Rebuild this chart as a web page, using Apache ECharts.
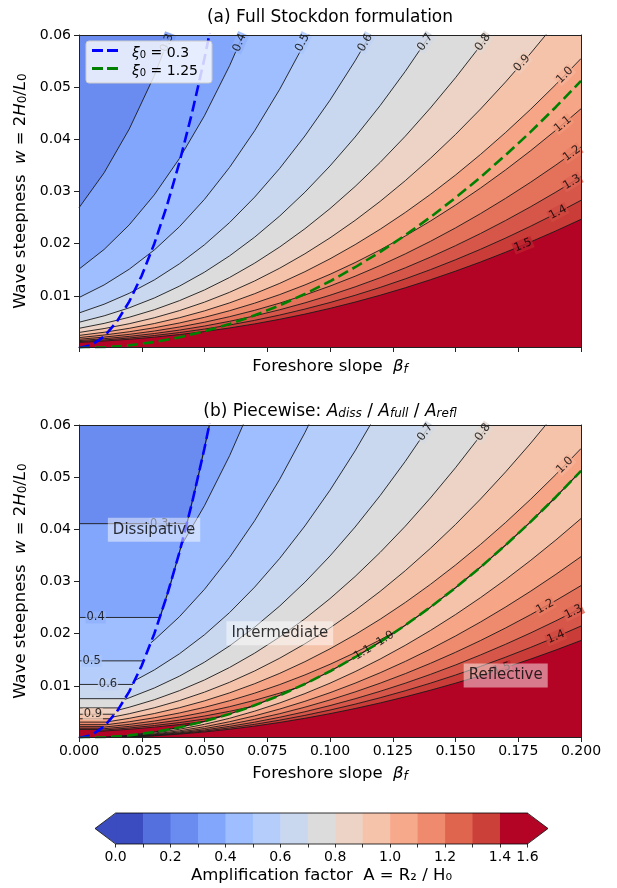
<!DOCTYPE html>
<html>
<head>
<meta charset="utf-8">
<title>Stockdon amplification factor</title>
<script src="https://cdn.jsdelivr.net/npm/echarts@6/dist/echarts.min.js"></script>
<style>
html,body{margin:0;padding:0;background:#ffffff;}
#chart{width:617px;height:888px;}
</style>
</head>
<body>
<div id="chart"></div>
<script>
// ================= values =================
const levels = [0.3, 0.4, 0.5, 0.6, 0.7, 0.8, 0.9, 1.0, 1.1, 1.2, 1.3, 1.4, 1.5];
const betaGrid = [0, 0.01, 0.02, 0.03, 0.04, 0.05, 0.06, 0.07, 0.08, 0.09, 0.10,
                  0.11, 0.12, 0.13, 0.14, 0.15, 0.16, 0.17, 0.18, 0.19, 0.20];
const yTicks = [0.01, 0.02, 0.03, 0.04, 0.05, 0.06];

// steepness w of each contour of the full formulation, at betaGrid
const fullW_03 = [0.02689, 0.03359, 0.04196, 0.05221, 0.06457];
const fullW_04 = [0.015125, 0.018895, 0.0236, 0.02937, 0.036319, 0.044543, 0.054117, 0.0651];
const fullW_05 = [0.00968, 0.012093, 0.015104, 0.018797, 0.023244, 0.028508, 0.034635, 0.041664, 0.049623, 0.058533, 0.06841];
const fullW_06 = [0.0067222, 0.0083977, 0.010489, 0.013053, 0.016142, 0.019797, 0.024052, 0.028933, 0.03446, 0.040648, 0.047507, 0.055046, 0.063271];
const fullW_07 = [0.0049388, 0.0061697, 0.007706, 0.0095902, 0.011859, 0.014545, 0.017671, 0.021257, 0.025318, 0.029864, 0.034903, 0.040442, 0.046485, 0.053035, 0.060095, 0.067666];
const fullW_08 = [0.0037813, 0.0047237, 0.0058999, 0.0073425, 0.0090798, 0.011136, 0.013529, 0.016275, 0.019384, 0.022864, 0.026723, 0.030963, 0.03559, 0.040605, 0.04601, 0.051807, 0.057997, 0.064581];
const fullW_09 = [0.0029877, 0.0037323, 0.0046617, 0.0058015, 0.0071742, 0.0087986, 0.01069, 0.012859, 0.015316, 0.018066, 0.021114, 0.024465, 0.02812, 0.032083, 0.036354, 0.040934, 0.045825, 0.051027, 0.056541, 0.062367];
const fullW_10 = [0.00242, 0.0030232, 0.003776, 0.0046992, 0.0058111, 0.0071269, 0.0086587, 0.010416, 0.012406, 0.014633, 0.017102, 0.019817, 0.022777, 0.025987, 0.029446, 0.033156, 0.037118, 0.041332, 0.045798, 0.050517, 0.055489];
const fullW_11 = [0.002, 0.0024985, 0.0031206, 0.0038836, 0.0048026, 0.00589, 0.007156, 0.0086082, 0.010253, 0.012094, 0.014134, 0.016377, 0.018824, 0.021477, 0.024336, 0.027402, 0.030676, 0.034159, 0.03785, 0.04175, 0.045859];
const fullW_12 = [0.0016806, 0.0020994, 0.0026222, 0.0032633, 0.0040355, 0.0049492, 0.006013, 0.0072333, 0.008615, 0.010162, 0.011877, 0.013762, 0.015818, 0.018047, 0.020449, 0.023025, 0.025776, 0.028703, 0.031804, 0.035081, 0.038534];
const fullW_13 = [0.001432, 0.0017888, 0.0022343, 0.0027806, 0.0034385, 0.0042171, 0.0051235, 0.0061633, 0.0073406, 0.0086587, 0.01012, 0.011726, 0.013478, 0.015377, 0.017424, 0.019619, 0.021963, 0.024457, 0.0271, 0.029892, 0.032834];
const fullW_14 = [0.0012347, 0.0015424, 0.0019265, 0.0023975, 0.0029649, 0.0036362, 0.0044177, 0.0053143, 0.0063294, 0.0074659, 0.0087258, 0.01011, 0.011621, 0.013259, 0.015024, 0.016917, 0.018938, 0.021088, 0.023366, 0.025774, 0.028311];
const fullW_15 = [0.0010756, 0.0013436, 0.0016782, 0.0020885, 0.0025827, 0.0031675, 0.0038483, 0.0046293, 0.0055136, 0.0065036, 0.0076011, 0.0088073, 0.010123, 0.01155, 0.013087, 0.014736, 0.016497, 0.01837, 0.020355, 0.022452, 0.024662];
const fullW = [fullW_03, fullW_04, fullW_05, fullW_06, fullW_07, fullW_08, fullW_09,
               fullW_10, fullW_11, fullW_12, fullW_13, fullW_14, fullW_15];

// panel (b): dissipative horizontal contours (w level, beta where they meet xi0=0.3)
const dissW = [0.041089, 0.023113, 0.014792, 0.010272, 0.0075469, 0.0057781, 0.0045654, 0.003698, 0.0030562, 0.002568, 0.0021882, 0.0018867, 0.0016436];
const dissEnd = [0.043003, 0.032252, 0.0258, 0.021501, 0.018429, 0.016126, 0.014334, 0.0129, 0.011728, 0.010751, 0.0099236, 0.0092147, 0.0086004];
// points along xi0 = 0.3 joining a dissipative contour to the intermediate one
const blueJoin = [[[0.0475, 0.050139]], [[0.0365, 0.029606]], [], [], [], [], [], [], [], [], [], [], []];
// where the intermediate contours start (on xi0=0.3) and end (on xi0=1.25)
const midStart = [[0.05196, 0.06], [0.04074, 0.03688], [0.028667, 0.018262], [0.022278, 0.01103],
                  [0.018268, 0.0074163], [0.015501, 0.0053398], [0.013471, 0.0040326], [0.011916, 0.0031551],
                  [0.010685, 0.0025369], [0.0096858, 0.0020848], [0.0088586, 0.0017439], [0.0081621, 0.0014804],
                  [0.0075677, 0.0012727]];
const midEnd = [null, null, null, null, null, null, null, null,
                [0.12726, 0.02073], [0.08688, 0.009662], [0.06839, 0.005987], [0.05719, 0.004187], [0.0495, 0.003136]];

// panel (b): reflective contours (levels 1.0 ... 1.5), w at betaGrid
const reflLevels = [1.0, 1.1, 1.2, 1.3, 1.4, 1.5];
const reflW_10 = [0, 0.000105, 0.000421, 0.000947, 0.001683, 0.002629, 0.003786, 0.005154, 0.006731, 0.008519, 0.010517, 0.012726, 0.015145, 0.017774, 0.020614, 0.023664, 0.026925, 0.030395, 0.034076, 0.037968, 0.04207];
const reflW_11 = [0, 0.000087, 0.000348, 0.000782, 0.001391, 0.002173, 0.003129, 0.004259, 0.005563, 0.007041, 0.008692, 0.010517, 0.012517, 0.01469, 0.017037, 0.019557, 0.022252, 0.02512, 0.028162, 0.031378, 0.034768];
const reflW_12 = [0, 0.000073, 0.000292, 0.000657, 0.001169, 0.001826, 0.002629, 0.003579, 0.004674, 0.005916, 0.007304, 0.008838, 0.010517, 0.012343, 0.014315, 0.016434, 0.018698, 0.021108, 0.023664, 0.026367, 0.029215];
const reflW_13 = [0, 0.000062, 0.000249, 0.00056, 0.000996, 0.001556, 0.00224, 0.003049, 0.003983, 0.005041, 0.006223, 0.00753, 0.008962, 0.010517, 0.012198, 0.014002, 0.015932, 0.017985, 0.020163, 0.022466, 0.024893];
const reflW_14 = [0, 0.000054, 0.000215, 0.000483, 0.000859, 0.001342, 0.001932, 0.002629, 0.003434, 0.004346, 0.005366, 0.006493, 0.007727, 0.009069, 0.010517, 0.012074, 0.013737, 0.015508, 0.017386, 0.019371, 0.021464];
const reflW_15 = [0, 0.000047, 0.000187, 0.000421, 0.000748, 0.001169, 0.001683, 0.00229, 0.002992, 0.003786, 0.004674, 0.005656, 0.006731, 0.0079, 0.009162, 0.010517, 0.011966, 0.013509, 0.015145, 0.016875, 0.018698];
const reflW = [reflW_10, reflW_11, reflW_12, reflW_13, reflW_14, reflW_15];

// regime boundaries xi0 = 0.3 and xi0 = 1.25
const xiLowPts = [[0, 0], [0.005, 0.000556], [0.01, 0.002222], [0.015, 0.005], [0.02, 0.008889], [0.025, 0.013889],
                  [0.03, 0.02], [0.035, 0.027222], [0.04, 0.035556], [0.045, 0.045], [0.05, 0.055556], [0.055, 0.067222]];
const xiHighW = [0, 0.000128, 0.000512, 0.001152, 0.002048, 0.0032, 0.004608, 0.006272, 0.008192, 0.010368, 0.0128,
                 0.015488, 0.018432, 0.021632, 0.025088, 0.0288, 0.032768, 0.036992, 0.041472, 0.046208, 0.0512];
// segments of xi0 = 0.3 where panel (b) contours pile up on the jump
const blueJumpB = [[[0.043003, 0.041089], [0.0475, 0.050139], [0.05196, 0.06]],
                   [[0.032252, 0.023113], [0.0365, 0.029606], [0.04074, 0.03688]]];

// contour labels: text, beta, w, angle
const labelsA = [['0.3', 0.0351, 0.0585, 69], ['0.4', 0.0640, 0.0585, 66], ['0.5', 0.0890, 0.0585, 63],
                 ['0.6', 0.1140, 0.0585, 60], ['0.7', 0.1379, 0.0586, 56], ['0.8', 0.1609, 0.0586, 54],
                 ['0.9', 0.1765, 0.0546, 48], ['1.0', 0.1936, 0.0523, 45], ['1.1', 0.1928, 0.0429, 40],
                 ['1.2', 0.1964, 0.0373, 36], ['1.3', 0.1964, 0.0318, 31], ['1.4', 0.1908, 0.0260, 28],
                 ['1.5', 0.1769, 0.0197, 22]];
const labelsB = [['0.3', 0.0319, 0.04109, 0], ['0.4', 0.00665, 0.02311, 0], ['0.5', 0.00506, 0.01479, 0],
                 ['0.6', 0.01155, 0.01027, 0], ['0.9', 0.0055, 0.00457, 0],
                 ['0.7', 0.1379, 0.0586, 56], ['0.8', 0.1609, 0.0586, 54], ['1.0', 0.1936, 0.0523, 45],
                 ['1.2', 0.1857, 0.02519, 29], ['1.3', 0.1970, 0.02415, 27], ['1.4', 0.1900, 0.01937, 23],
                 ['1.5', 0.1685, 0.01327, 18]];
const labelsOnJumpB = [['1.1', 0.1131, 0.01637, 31], ['1.0', 0.1220, 0.01905, 33]];
const regionLabels = [['Dissipative', 0.0299, 0.0399], ['Intermediate', 0.0800, 0.0201], ['Reflective', 0.1700, 0.0120]];

// colour bar
const cbTickLabels = ['0.0', '0.1', '0.2', '0.3', '0.4', '0.5', '0.6', '0.7', '0.8', '0.9', '1.0', '1.1', '1.2', '1.3', '1.4', '1.6'];
const cbShown = [0, 2, 4, 6, 8, 10, 12, 14, 15];

// ================= styles =================
const FONT = "'DejaVu Sans', sans-serif";
const bandColors = ['#6a8bef', '#82a6fb', '#9ebeff', '#b5cdfa', '#cad8ef', '#dddcdc', '#ecd3c5',
                    '#f5c2aa', '#f6a586', '#ee8a6d', '#e4715a', '#d6564a', '#c93c37', '#b40426'];
const cbColors = ['#3b4cc0', '#5470de', '#6a8bef', '#82a6fb', '#9ebeff', '#b5cdfa', '#cad8ef', '#dddcdc',
                  '#ecd3c5', '#f5c2aa', '#f7a98b', '#ef8a6e', '#e0654f', '#cc403a', '#b40426'];
const X_MIN = 0, X_MAX = 0.2, Y_MIN = 0.0002, Y_MAX = 0.06;
const LINE_COLOR = '#1a1a1a';
const DASH_ICON = 'path://M0,0H11V3H0Z M15,0H26V3H15Z';

function rich(size) {
  const sub = Math.round(size * 0.7);
  return {
    n: {fontSize: size, fontFamily: FONT, color: '#000', lineHeight: size + 5, verticalAlign: 'bottom'},
    i: {fontSize: size, fontFamily: FONT, fontStyle: 'italic', color: '#000', lineHeight: size + 5, verticalAlign: 'bottom'},
    s: {fontSize: sub, fontFamily: FONT, fontStyle: 'italic', color: '#000', lineHeight: sub + 1, verticalAlign: 'bottom'},
    r: {fontSize: sub, fontFamily: FONT, color: '#000', lineHeight: sub + 1, verticalAlign: 'bottom'}
  };
}
function mix(a, b) {
  const pa = parseInt(a.slice(1), 16), pb = parseInt(b.slice(1), 16);
  const r = ((pa >> 16) + (pb >> 16)) >> 1, g = (((pa >> 8) & 255) + ((pb >> 8) & 255)) >> 1, bl = ((pa & 255) + (pb & 255)) >> 1;
  return 'rgb(' + r + ',' + g + ',' + bl + ')';
}
const pts = (arr) => arr.map((w, j) => [betaGrid[j], w]);

// ================= series =================
const S = [];
function fill(g, data, color) {
  S.push({type: 'line', xAxisIndex: g, yAxisIndex: g, data: data, symbol: 'none', showSymbol: false,
          lineStyle: {width: 0, opacity: 0, color: 'rgba(0,0,0,0)'},
          areaStyle: {color: color, opacity: 1, origin: 'start'}, silent: true, z: 1, clip: true});
}
function contour(g, data, w) {
  S.push({type: 'line', xAxisIndex: g, yAxisIndex: g, data: data, symbol: 'none', showSymbol: false,
          lineStyle: {width: w || 0.9, color: LINE_COLOR}, silent: true, z: 3, clip: true});
}
function dashed(g, name, data, color) {
  S.push({type: 'line', name: name, xAxisIndex: g, yAxisIndex: g, data: data, symbol: 'none', showSymbol: false,
          lineStyle: {width: 2.6, color: color, type: [11, 5]}, itemStyle: {color: color}, silent: true, z: 4, clip: true});
}
function labelSeries(g, arr, withBg) {
  S.push({type: 'scatter', xAxisIndex: g, yAxisIndex: g, symbolSize: 0, silent: true, z: 5, clip: false,
    data: arr.map(l => {
      const k = levels.indexOf(parseFloat(l[0]));
      const lab = {formatter: l[0], rotate: l[3]};
      if (withBg && k >= 0) lab.backgroundColor = mix(bandColors[k], bandColors[k + 1]);
      return {value: [l[1], l[2]], label: lab};
    }),
    label: {show: true, position: 'inside', fontSize: 11.5, fontFamily: FONT, color: '#000', padding: [0, 1]}});
}

// ---- panel (a) ----
levels.forEach((c, i) => {
  const p = pts(fullW[i]);
  const d = p[p.length - 1][1] >= Y_MAX ? p.concat([[X_MAX, Y_MAX]]) : p;
  fill(0, d, bandColors[i + 1]);
});
levels.forEach((c, i) => contour(0, pts(fullW[i])));
dashed(0, 'xi03', xiLowPts, '#0000ff');
dashed(0, 'xi125', pts(xiHighW), '#008000');
labelSeries(0, labelsA, true);

// ---- panel (b) ----
levels.forEach((c, i) => {
  let d = [[0, dissW[i]], [dissEnd[i], dissW[i]]].concat(blueJoin[i], [midStart[i]],
          pts(fullW[i]).filter(p => p[0] > midStart[i][0]));
  if (d[d.length - 1][1] >= Y_MAX) d = d.concat([[X_MAX, Y_MAX]]);
  fill(1, d, bandColors[i + 1]);
});
fill(1, pts(xiHighW), bandColors[levels.indexOf(0.9) + 1]);
reflLevels.forEach((c, k) => fill(1, pts(reflW[k]), bandColors[levels.indexOf(c) + 1]));
levels.forEach((c, i) => contour(1, [[0, dissW[i]], [dissEnd[i], dissW[i]]]));
levels.forEach((c, i) => {
  if (i === 0) return;
  const end = midEnd[i];
  const mid = pts(fullW[i]).filter(p => p[0] > midStart[i][0] && (!end || p[0] < end[0]));
  contour(1, [midStart[i]].concat(mid, end ? [end] : []));
});
reflLevels.forEach((c, k) => contour(1, pts(reflW[k])));
contour(1, pts(xiHighW), 1.2);
blueJumpB.forEach(seg => contour(1, seg, 1.2));
dashed(1, 'xi03b', xiLowPts, '#0000ff');
dashed(1, 'xi125b', pts(xiHighW), '#008000');
labelSeries(1, labelsB, true);
labelSeries(1, labelsOnJumpB, false);
S.push({type: 'scatter', xAxisIndex: 1, yAxisIndex: 1, symbolSize: 0, silent: true, z: 6, clip: false,
  data: regionLabels.map(r => ({value: [r[1], r[2]], label: {formatter: r[0]}})),
  label: {show: true, position: 'inside', fontSize: 15, fontFamily: FONT, color: '#000', lineHeight: 16,
          backgroundColor: 'rgba(255,255,255,0.6)', padding: [4, 5, 4, 5]}});

// ---- colour bar ----
S.push({type: 'custom', xAxisIndex: 2, yAxisIndex: 2, silent: true, z: 2, clip: false,
  data: cbColors.map((c, i) => [i]),
  renderItem: (params, api) => {
    const i = api.value(0);
    const a = api.coord([i, 1]), b = api.coord([i + 1, 0]);
    return {type: 'rect', shape: {x: a[0], y: a[1], width: b[0] - a[0] + 0.6, height: b[1] - a[1]},
            style: {fill: cbColors[i]}};
  }});
S.push({type: 'custom', xAxisIndex: 2, yAxisIndex: 2, silent: true, z: 3, clip: false,
  data: [[0]],
  renderItem: (params, api) => {
    const c = (x, y) => api.coord([x, y]);
    const n = cbColors.length;
    return {type: 'group', children: [
      {type: 'polygon', shape: {points: [c(-0.75, 0.5), c(0.02, 1), c(0.02, 0)]}, style: {fill: cbColors[0]}},
      {type: 'polygon', shape: {points: [c(n - 0.02, 1), c(n + 0.75, 0.5), c(n - 0.02, 0)]}, style: {fill: cbColors[n - 1]}},
      {type: 'polygon', shape: {points: [c(-0.75, 0.5), c(0, 1), c(n, 1), c(n + 0.75, 0.5), c(n, 0), c(0, 0)]},
       style: {fill: 'none', stroke: '#000', lineWidth: 0.8}}
    ]};
  }});

// ================= axes =================
const axisLineStyle = {show: true, onZero: false, lineStyle: {color: '#222', width: 1}};
const tickStyle = {show: true, length: 5, lineStyle: {color: '#222', width: 1}};
const tickLabel = {fontSize: 14, fontFamily: FONT, color: '#000'};
const xName = '{n|Foreshore slope  }{i|β}{s|f}';
const yName = '{n|Wave steepness  }{i|w}{n| = 2}{i|H}{r|0}{n|/}{i|L}{r|0}';
const spineX = g => ({gridIndex: g, type: 'value', position: 'top', min: X_MIN, max: X_MAX, axisLine: axisLineStyle,
                      axisTick: {show: false}, axisLabel: {show: false}, splitLine: {show: false}, z: 10});
const spineY = g => ({gridIndex: g, type: 'value', position: 'right', min: Y_MIN, max: Y_MAX, axisLine: axisLineStyle,
                      axisTick: {show: false}, axisLabel: {show: false}, splitLine: {show: false}, z: 10});
const mainY = g => ({gridIndex: g, type: 'value', min: Y_MIN, max: Y_MAX, axisLine: axisLineStyle,
  axisTick: Object.assign({customValues: yTicks}, tickStyle),
  axisLabel: Object.assign({customValues: yTicks, formatter: v => v.toFixed(2), margin: 8}, tickLabel),
  splitLine: {show: false}, name: yName, nameLocation: 'middle', nameGap: 41, nameRotate: 90,
  nameTextStyle: {rich: rich(16.5)}, z: 10});

const option = {
  animation: false,
  backgroundColor: '#ffffff',
  title: [
    {text: '(a) Full Stockdon formulation', left: 330, top: 9, textAlign: 'center', padding: 0,
     textStyle: {fontFamily: FONT, fontSize: 17, fontWeight: 'normal', color: '#000'}},
    {text: '{n|(b) Piecewise: }{i|A}{s|diss}{n| / }{i|A}{s|full}{n| / }{i|A}{s|refl}', left: 330, top: 398,
     textAlign: 'center', padding: 0, textStyle: {fontFamily: FONT, fontSize: 17, fontWeight: 'normal', rich: rich(17)}}
  ],
  legend: {
    data: [{name: 'xi03', icon: DASH_ICON}, {name: 'xi125', icon: DASH_ICON}],
    left: 86, top: 41, orient: 'vertical', itemWidth: 26, itemHeight: 3, itemGap: 4,
    padding: [5, 14, 5, 6], backgroundColor: 'rgba(255,255,255,0.8)', borderColor: '#cccccc', borderWidth: 1,
    borderRadius: 3, selectedMode: false, z: 50,
    itemStyle: {borderWidth: 0},
    formatter: n => n === 'xi03' ? '{i|ξ}{r|0}{n| = 0.3}' : '{i|ξ}{r|0}{n| = 1.25}',
    textStyle: {fontFamily: FONT, fontSize: 14, color: '#000', padding: [0, 0, 0, 9], rich: rich(14)}
  },
  grid: [
    {left: 79, top: 35, width: 502, height: 312, show: true, backgroundColor: bandColors[0], borderWidth: 0},
    {left: 79, top: 425, width: 502, height: 312, show: true, backgroundColor: bandColors[0], borderWidth: 0},
    {left: 95, top: 813, width: 453, height: 31}
  ],
  xAxis: [
    {gridIndex: 0, type: 'value', min: X_MIN, max: X_MAX, interval: 0.025, axisLine: axisLineStyle, axisTick: tickStyle,
     axisLabel: {show: false}, splitLine: {show: false}, name: xName, nameLocation: 'middle', nameGap: 7,
     nameTextStyle: {rich: rich(16.5)}, z: 10},
    {gridIndex: 1, type: 'value', min: X_MIN, max: X_MAX, interval: 0.025, axisLine: axisLineStyle, axisTick: tickStyle,
     axisLabel: Object.assign({formatter: v => v.toFixed(3), margin: 7}, tickLabel), splitLine: {show: false},
     name: xName, nameLocation: 'middle', nameGap: 24, nameTextStyle: {rich: rich(16.5)}, z: 10},
    {gridIndex: 2, type: 'value', min: -0.75, max: 15.75, axisLine: {show: false, onZero: false},
     axisTick: {show: true, customValues: [0, 1, 2, 3, 4, 5, 6, 7, 8, 9, 10, 11, 12, 13, 14, 15], length: 3.5,
                lineStyle: {color: '#000', width: 0.8}},
     axisLabel: Object.assign({customValues: cbShown, formatter: v => cbTickLabels[v], margin: 6}, tickLabel),
     splitLine: {show: false}, name: 'Amplification factor  A = R₂ / H₀', nameLocation: 'middle', nameGap: 23,
     nameTextStyle: {fontFamily: FONT, fontSize: 16.5, color: '#000'}, z: 10},
    spineX(0), spineX(1)
  ],
  yAxis: [
    mainY(0), mainY(1),
    {gridIndex: 2, type: 'value', min: 0, max: 1, show: false},
    spineY(0), spineY(1)
  ],
  series: S
};
const chart = echarts.init(document.getElementById('chart'), null, {renderer: 'canvas'});
chart.setOption(option);
</script>
</body>
</html>
